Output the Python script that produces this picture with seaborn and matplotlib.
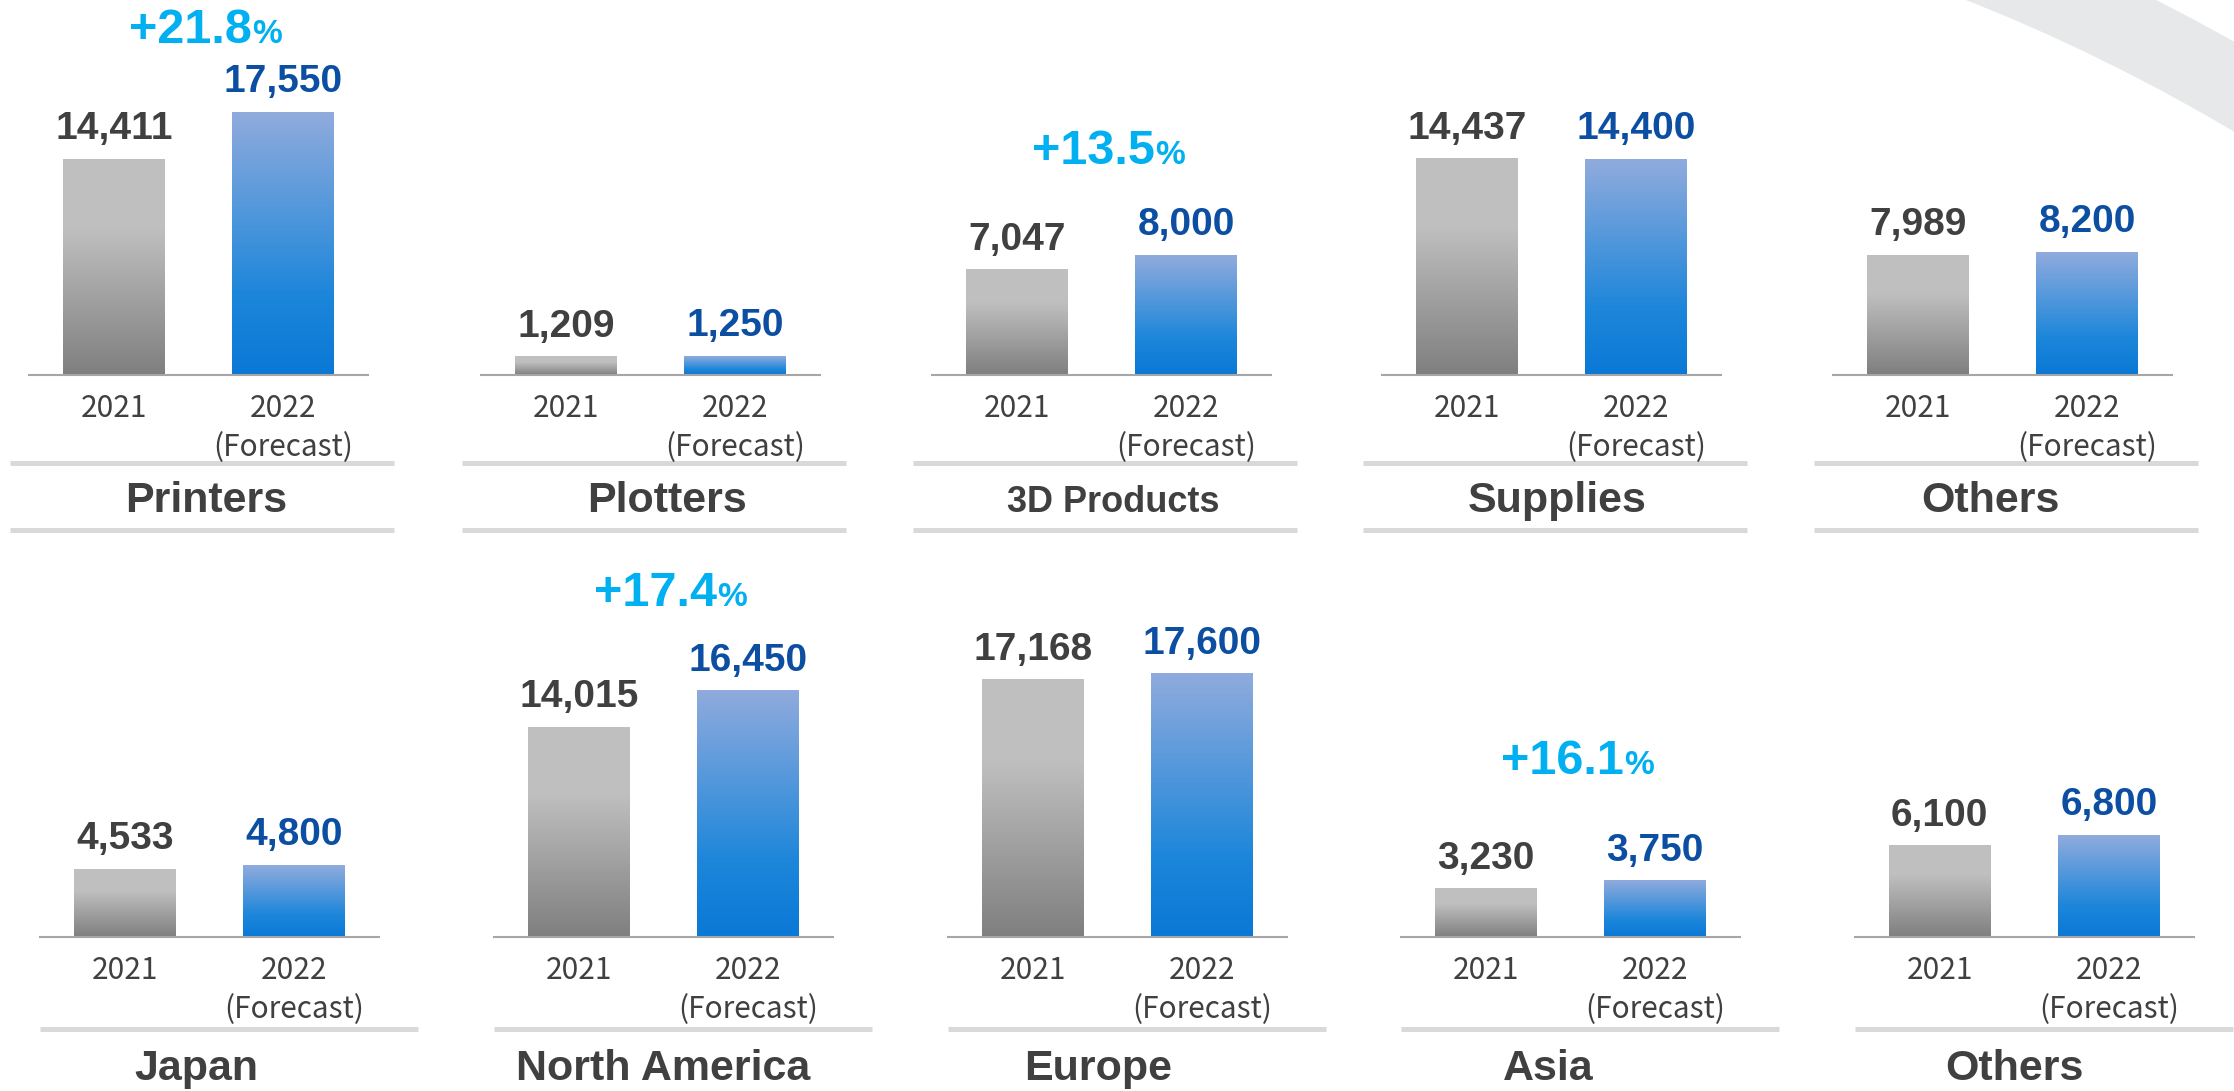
import numpy as np
import pandas as pd

import seaborn as sns
import matplotlib.pyplot as plt

from matplotlib.colors import LinearSegmentedColormap
from matplotlib.patches import Wedge

# ======================================
# DATA
# ======================================

years = ["2021", "2022\n(Forecast)"]

product_names = ["Printers", "Plotters", "3D Products", "Supplies", "Others"]
product_2021 = [14411, 1209, 7047, 14437, 7989]
product_2022 = [17550, 1250, 8000, 14400, 8200]
product_growth = ["+21.8", None, "+13.5", None, None]

region_names = ["Japan", "North America", "Europe", "Asia", "Others"]
region_2021 = [4533, 14015, 17168, 3230, 6100]
region_2022 = [4800, 16450, 17600, 3750, 6800]
region_growth = [None, "+17.4", None, "+16.1", None]

# ======================================
# STYLE
# ======================================

sns.set_style("white")
plt.rcParams["font.family"] = ["Liberation Sans", "DejaVu Sans"]

W, H = 2234, 1091
UNITS_PER_PX = 66.8
AX_W, AX_H = 339, 330

DARK = "#404040"
NAVY = "#0B4EA2"
CYAN = "#00B0F0"
LINE_GRAY = "#D9D9D9"

gray_cmap = LinearSegmentedColormap.from_list(
    "gray_bar",
    [(0, "#7F7F7F"), (0.68, "#BFBFBF"), (1, "#C0C0C0")]
)
blue_cmap = LinearSegmentedColormap.from_list(
    "blue_bar",
    [(0, "#0A78D6"), (0.3, "#1C86DA"), (1, "#90ABDD")]
)

fig = plt.figure(figsize=(W / 100, H / 100), dpi=100)
fig.patch.set_facecolor("white")

# background layer in pixel coords (y down)
bg = fig.add_axes([0, 0, 1, 1], zorder=0)
bg.set_xlim(0, W)
bg.set_ylim(H, 0)
bg.axis("off")

bg.add_patch(
    Wedge((1279, 1736), 1945, -80, -40, width=78,
          facecolor="#E7E8E9", edgecolor="none")
)

# ======================================
# PANEL
# ======================================


def draw_panel(left, baseline, name, v_old, v_new, growth,
               growth_off, name_dx, name_size, name_base, sep_ys, sep_x):
    ax = fig.add_axes(
        [left / W, (H - baseline) / H, AX_W / W, AX_H / H],
        zorder=1
    )
    ax.patch.set_alpha(0)

    df = pd.DataFrame({"year": years, "value": [v_old, v_new]})

    sns.barplot(
        data=df,
        x="year",
        y="value",
        hue="year",
        palette=["#BFBFBF", "#1C86DA"],
        width=0.6,
        legend=False,
        ax=ax
    )

    bars = sorted(ax.patches, key=lambda p: p.get_x())
    grad = np.linspace(0, 1, 256).reshape(-1, 1)

    for bar, cmap, val, col in zip(
        bars,
        [gray_cmap, blue_cmap],
        [v_old, v_new],
        [DARK, NAVY]
    ):
        x0 = bar.get_x()
        w = bar.get_width()
        h = bar.get_height()
        ax.imshow(grad, extent=[x0, x0 + w, 0, h], origin="lower",
                  aspect="auto", cmap=cmap, zorder=2)
        bar.set_visible(False)

        ax.annotate(
            f"{val:,}",
            (x0 + w / 2, h),
            xytext=(0, 20),
            textcoords="offset pixels",
            ha="center",
            va="baseline",
            fontsize=28,
            fontweight="bold",
            color=col
        )

    ax.set_xlim(-0.5, 1.5)
    ax.set_ylim(0, AX_H * UNITS_PER_PX)

    if growth:
        top = max(v_old, v_new)
        ax.annotate(growth, (0.52, top), xytext=(50, growth_off - 17),
                    textcoords="offset pixels", ha="right", va="baseline",
                    fontsize=35, fontweight="bold", color=CYAN)
        ax.annotate("%", (0.52, top), xytext=(50, growth_off - 17),
                    textcoords="offset pixels", ha="left", va="baseline",
                    fontsize=24, fontweight="bold", color=CYAN)

    for s in ["top", "left", "right"]:
        ax.spines[s].set_visible(False)
    ax.spines["bottom"].set_color("#A6A6A6")
    ax.spines["bottom"].set_linewidth(1.5)

    ax.set_yticks([])
    ax.set_xlabel("")
    ax.set_ylabel("")
    ax.tick_params(axis="x", length=0, pad=13, labelsize=21.5,
                   labelcolor=DARK)
    for lbl in ax.get_xticklabels():
        lbl.set_fontfamily(["Noto Sans CJK JP", "DejaVu Sans"])
        lbl.set_linespacing(1.35)

    # separators + category name
    for y in sep_ys:
        bg.plot([left + sep_x[0], left + sep_x[1]], [y, y],
                color=LINE_GRAY, lw=3.6, solid_capstyle="butt")

    bg.text(left + AX_W / 2 + name_dx, name_base, name,
            ha="center", va="baseline", fontsize=name_size,
            fontweight="bold", color=DARK)


# ======================================
# TOP ROW (PRODUCTS)
# ======================================

top_lefts = [29, 481, 932, 1382, 1833]
top_name_dx = [8, 16, 12, 6, -12]
top_growth_off = [86, 0, 108, 0, 0]

for i, name in enumerate(product_names):
    draw_panel(
        top_lefts[i], 375, name,
        product_2021[i], product_2022[i], product_growth[i],
        top_growth_off[i], top_name_dx[i],
        26 if name == "3D Products" else 31,
        512, [463, 530], (-19, 365)
    )

# ======================================
# BOTTOM ROW (REGIONS)
# ======================================

bottom_lefts = [40, 494, 948, 1401, 1855]
bottom_name_dx = [-13, 0, -19, -22, -10]
bottom_growth_off = [0, 102, 0, 124, 0]

for i, name in enumerate(region_names):
    draw_panel(
        bottom_lefts[i], 937, name,
        region_2021[i], region_2022[i], region_growth[i],
        bottom_growth_off[i], bottom_name_dx[i],
        31,
        1080, [1029], (0, 378)
    )

plt.savefig("out.png", dpi=100, facecolor="white")
